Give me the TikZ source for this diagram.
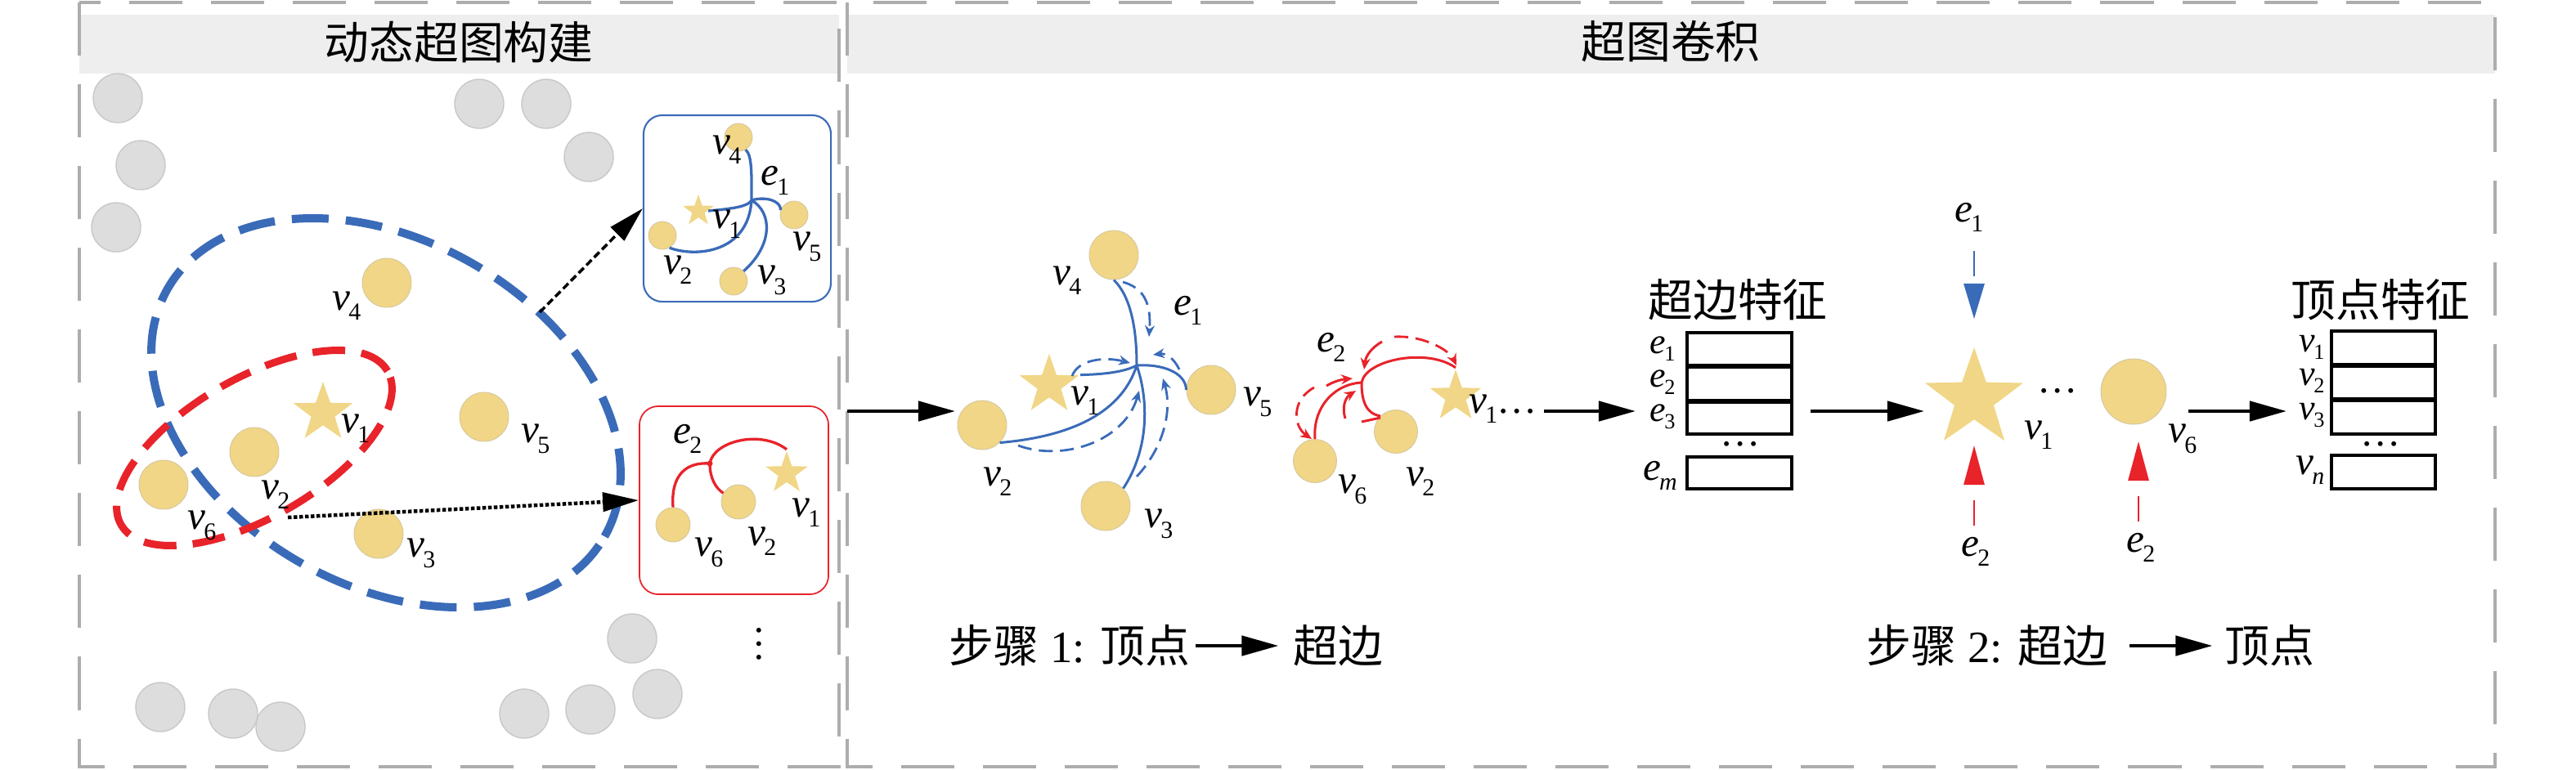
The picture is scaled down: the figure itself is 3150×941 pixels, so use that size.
\documentclass[tikz,border=0pt]{standalone}
\usepackage{fontspec}
\usepackage{graphicx}
\setmainfont{Liberation Serif}
\newfontfamily\cjk{Noto Sans CJK SC}
\usetikzlibrary{shapes.geometric,arrows.meta}
\definecolor{hblue}{RGB}{58,107,184}
\definecolor{hred}{RGB}{232,35,42}
\definecolor{hyel}{RGB}{240,214,134}
\definecolor{hyelb}{RGB}{212,198,160}
\definecolor{hgray}{RGB}{221,221,221}
\definecolor{hgrayb}{RGB}{200,200,200}
\definecolor{pgray}{RGB}{173,173,173}
\definecolor{band}{RGB}{238,238,238}
\newcommand{\vlab}[2]{\textit{#1}\kern-0.04em\raisebox{-0.55ex}{\fontsize{8.5pt}{9pt}\selectfont #2}}
\newcommand{\tlab}[2]{\textit{#1}\kern-0.04em\raisebox{-0.45ex}{\fontsize{7.5pt}{8pt}\selectfont #2}}
\begin{document}
\begin{tikzpicture}[x=0.01cm,y=-0.01cm,
  ynode/.style={circle,fill=hyel,draw=hyelb,line width=0.25pt,inner sep=0pt,minimum size=#1},
  gnode/.style={circle,fill=hgray,draw=hgrayb,line width=0.4pt,inner sep=0pt,minimum size=0.6cm},
  ystar/.style={star,star points=5,star point ratio=2.5,fill=hyel,draw=none,inner sep=0pt,minimum size=#1},
  lbl/.style={font=\fontsize{14pt}{16pt}\selectfont,inner sep=0pt},
  tlbl/.style={font=\fontsize{12.5pt}{14pt}\selectfont,inner sep=0pt},
  cjkt/.style={font=\fontsize{15.6pt}{18pt}\selectfont,inner sep=0pt},
  panel/.style={draw=pgray,line width=0.04cm,dash pattern=on 0.65cm off 0.35cm},
  bigarrow/.style={line width=0.045cm,-{Triangle[length=0.45cm,width=0.24cm]}},
  bline/.style={draw=hblue,line width=0.03cm},
  bdash/.style={draw=hblue,line width=0.028cm,dash pattern=on 0.17cm off 0.09cm,-{Stealth[length=0.14cm,width=0.12cm]}},
  rline/.style={draw=hred,line width=0.03cm},
  rdash/.style={draw=hred,line width=0.028cm,dash pattern=on 0.17cm off 0.09cm,-{Stealth[length=0.14cm,width=0.12cm]}},
  tbox/.style={draw,line width=0.035cm,inner sep=0pt,minimum width=1.28cm},
  sep/.style={line width=0.055cm}
]
\useasboundingbox (0,0) rectangle (3150,941);
% panels
\fill[band] (97,18) rectangle (1026,90);
\fill[band] (1036,18) rectangle (3051,90);
\draw[panel] (97,3) rectangle (1026,938);
\draw[panel] (1036,3) rectangle (3051,938);
\node[cjkt] (t1) at (561,52) {\cjk 动态超图构建};
\node[cjkt] (t2) at (2043,51) {\cjk 超图卷积};

% ---------------- left panel ----------------
\foreach \p [count=\i] in {(144,120),(586,127),(668,127),(172,202),(720,192),(142,278),(773,781),(804,849),(722,868),(641,873),(196,865),(285,873),(343,889)}
  \node[gnode] (g\i) at \p {};
\draw[hblue,line width=0.1cm,dash pattern=on 0.45cm off 0.21cm,rotate around={-29.5:(472,505)}] (472,505) ellipse [x radius=3.07cm,y radius=2.11cm];
\draw[hred,line width=0.09cm,dash pattern=on 0.4cm off 0.2cm,rotate around={30:(311,548)}] (311,548) ellipse [x radius=1.88cm,y radius=0.85cm];
\node[ynode=0.6cm] (L4) at (473,346) {};
\node[ystar=0.76cm] (L1) at (395,505) {};
\node[ynode=0.6cm] (L2) at (311,553) {};
\node[ynode=0.6cm] (L6) at (200,593) {};
\node[ynode=0.6cm] (L5) at (592,510) {};
\node[ynode=0.6cm] (L3) at (463,653) {};
\node[lbl] (lL4) at (424,374) {\vlab{v}{4}};
\node[lbl] (lL1) at (435,524) {\vlab{v}{1}};
\node[lbl] (lL2) at (337,605) {\vlab{v}{2}};
\node[lbl] (lL6) at (247,643) {\vlab{v}{6}};
\node[lbl] (lL5) at (655,537) {\vlab{v}{5}};
\node[lbl] (lL3) at (515,677) {\vlab{v}{3}};

% blue hyperedge box
\node[draw=hblue,line width=0.6pt,rounded corners=0.23cm,minimum width=2.29cm,minimum height=2.28cm,inner sep=0pt] (BB) at (901.5,255) {};
\node[ynode=0.34cm] (B4) at (903,168) {};
\node[ystar=0.4cm] (B1) at (854,258) {};
\node[ynode=0.34cm] (B2) at (810,288) {};
\node[ynode=0.34cm] (B5) at (971,263) {};
\node[ynode=0.34cm] (B3) at (897,344) {};
\coordinate (BH) at (919,245);
\draw[bline,line width=0.033cm] (B4.-60) .. controls (920,190) and (919,215) .. (BH);
\draw[bline,line width=0.033cm] (B1.east) .. controls (900,255) and (915,252) .. (BH);
\draw[bline,line width=0.033cm] (B2.-60) .. controls (850,315) and (915,310) .. (BH);
\draw[bline,line width=0.033cm] (B3.45) .. controls (945,300) and (945,260) .. (BH);
\draw[bline,line width=0.033cm] (B5.160) .. controls (955,245) and (935,240) .. (BH);
\node[lbl] (lB4) at (889,183) {\vlab{v}{4}};
\node[lbl] (lBe) at (948,221) {\vlab{e}{1}};
\node[lbl] (lB1) at (889,274) {\vlab{v}{1}};
\node[lbl] (lB5) at (987,302) {\vlab{v}{5}};
\node[lbl] (lB2) at (829,330) {\vlab{v}{2}};
\node[lbl] (lB3) at (944,343) {\vlab{v}{3}};

% red hyperedge box
\node[draw=hred,line width=0.5pt,rounded corners=0.23cm,minimum width=2.31cm,minimum height=2.30cm,inner sep=0pt] (RB) at (897.5,612) {};
\node[ynode=0.42cm] (R6) at (823,642) {};
\node[ynode=0.42cm] (R2) at (903,614) {};
\node[ystar=0.54cm] (R1) at (962,579) {};
\coordinate (RJ) at (868,567);
\draw[rline,line width=0.033cm] (R6.north) .. controls (820,580) and (840,565) .. (RJ);
\draw[rline,line width=0.033cm] (RJ) .. controls (872,540) and (930,525) .. (R1.north);
\draw[rline,line width=0.033cm] (RJ) .. controls (868,585) and (875,597) .. (R2.150);
\fill[hred] (RJ) circle (0.035cm);
\node[lbl] (lRe) at (841,537) {\vlab{e}{2}};
\node[lbl] (lR1) at (986,627) {\vlab{v}{1}};
\node[lbl] (lR6) at (867,676) {\vlab{v}{6}};
\node[lbl] (lR2) at (932,662) {\vlab{v}{2}};
\node[lbl] (vdots) at (928,788) {\rotatebox{90}{…}};

% left arrows
\coordinate (A1) at (660,382);
\coordinate (A2) at (352,633);
\draw[line width=0.035cm,dash pattern=on 0.09cm off 0.045cm,-{Triangle[length=0.44cm,width=0.23cm]}] (A1) -- (BB.west);
\draw[line width=0.045cm,dash pattern=on 0.045cm off 0.025cm,-{Triangle[length=0.44cm,width=0.23cm]}] (A2) -- (RB.west);

% ---------------- right panel ----------------
\coordinate (P0) at (1036,503);
\coordinate (P1) at (1168,503);
\draw[bigarrow] (P0) -- (P1);

% step 1 blue
\node[ynode=0.6cm] (C4) at (1362,312) {};
\node[ystar=0.76cm] (C1) at (1283,471) {};
\node[ynode=0.6cm] (C2) at (1201,520) {};
\node[ynode=0.6cm] (C5) at (1481,477) {};
\node[ynode=0.6cm] (C3) at (1352,619) {};
\coordinate (CH) at (1390,447);
\draw[bline] (C4.south) .. controls (1382,362) and (1390,400) .. (CH);
\draw[bline] (C1.18) .. controls (1350,458) and (1375,455) .. (CH);
\draw[bline] (C2.-45) .. controls (1300,535) and (1370,510) .. (CH);
\draw[bline] (C3.45) .. controls (1405,550) and (1405,490) .. (CH);
\draw[bline] (C5.west) .. controls (1450,455) and (1420,445) .. (CH);
\draw[bdash] (1373,345) .. controls (1398,352) and (1408,370) .. (1405,412);
\draw[bdash] (1311,460) .. controls (1318,440) and (1350,436) .. (1382,444);
\draw[bdash] (1245,545) .. controls (1300,565) and (1375,540) .. (1393,478);
\draw[bdash] (1390,583) .. controls (1425,545) and (1433,500) .. (1422,463);
\draw[bdash] (1442,452) .. controls (1435,437) and (1425,432) .. (1410,434);
\node[lbl] (lC4) at (1305,343) {\vlab{v}{4}};
\node[lbl] (lCe) at (1453,380) {\vlab{e}{1}};
\node[lbl] (lC1) at (1327,490) {\vlab{v}{1}};
\node[lbl] (lC5) at (1538,492) {\vlab{v}{5}};
\node[lbl] (lC2) at (1220,589) {\vlab{v}{2}};
\node[lbl] (lC3) at (1417,641) {\vlab{v}{3}};

% step 1 red
\node[ynode=0.53cm] (D6) at (1608,564) {};
\node[ynode=0.53cm] (D2) at (1707,528) {};
\node[ystar=0.66cm] (D1) at (1780,485) {};
\coordinate (DJ) at (1665,468);
\draw[rline] (D6.north) .. controls (1605,500) and (1630,470) .. (DJ);
\draw[rline] (DJ) .. controls (1670,440) and (1745,425) .. (D1.north);
\draw[rline] (DJ) .. controls (1665,490) and (1670,506) .. (D2.135);
\draw[rline] (1665,516) -- (1688,511);
\draw[rdash] (1705,412) .. controls (1740,410) and (1772,428) .. (1781,447);
\draw[rline,-{Stealth[length=0.14cm,width=0.12cm]}] (1690,418) .. controls (1676,426) and (1670,436) .. (1668,452);
\draw[rdash] (1607,474) .. controls (1578,490) and (1582,522) .. (1604,537);
\draw[rline,-{Stealth[length=0.14cm,width=0.12cm]}] (1622,472) .. controls (1632,466) and (1642,464) .. (1654,463);
\draw[rline,-{Stealth[length=0.14cm,width=0.12cm]}] (1645,512) .. controls (1640,495) and (1647,485) .. (1658,478);
\node[lbl] (lDe) at (1628,425) {\vlab{e}{2}};
\node[lbl] (lD1) at (1814,500) {\vlab{v}{1}};
\node[lbl] (dd1) at (1855,503) {…};
\node[lbl] (lD6) at (1654,599) {\vlab{v}{6}};
\node[lbl] (lD2) at (1737,589) {\vlab{v}{2}};
\coordinate (Q1) at (1888,503);
\coordinate (Q2) at (2000,503);
\draw[bigarrow] (Q1) -- (Q2);

% hyperedge features
\node[cjkt] (hetitle) at (2125,367) {\cjk 超边特征};
\node[tbox,minimum height=1.24cm] (HE) at (2127,469) {};
\draw[sep] (HE.west |- 0,448) -- (HE.east |- 0,448);
\draw[sep] (HE.west |- 0,491) -- (HE.east |- 0,491);
\node[tbox,minimum height=0.39cm] (HEm) at (2127,578.5) {};
\node[tlbl] (le1) at (2033,427) {\tlab{e}{1}};
\node[tlbl] (le2) at (2033,468) {\tlab{e}{2}};
\node[tlbl] (le3) at (2033,510) {\tlab{e}{3}};
\node[lbl] (lem) at (2030,582) {\vlab{e}{\textit{m}}};
\node[lbl] (dd2) at (2128,543) {…};
\coordinate (Q3) at (2214,503);
\coordinate (Q4) at (2353,503);
\draw[bigarrow] (Q3) -- (Q4);

% step 2 nodes
\node[ystar=1.26cm] (S1) at (2414,488) {};
\node[lbl] (dd3) at (2516,478) {…};
\node[ynode=0.8cm] (S6) at (2609,479) {};
\node[lbl] (lS1) at (2493,532) {\vlab{v}{1}};
\node[lbl] (lS6) at (2669,537) {\vlab{v}{6}};
\node[lbl] (lSe1) at (2408,266) {\vlab{e}{1}};
\node[lbl] (lSe2a) at (2416,675) {\vlab{e}{2}};
\node[lbl] (lSe2b) at (2618,670) {\vlab{e}{2}};
\coordinate (E1a) at (2414,307);
\coordinate (E1b) at (2414,390);
\draw[hblue,line width=0.028cm,dash pattern=on 0.31cm off 0.09cm,-{Triangle[length=0.43cm,width=0.25cm]}] (E1a) -- (E1b);
\coordinate (E2a) at (2414,643);
\coordinate (E2b) at (2414,545);
\draw[hred,line width=0.028cm,dash pattern=on 0.31cm off 0.19cm,-{Triangle[length=0.48cm,width=0.25cm]}] (E2a) -- (E2b);
\coordinate (E3a) at (2615,638);
\coordinate (E3b) at (2615,540);
\draw[hred,line width=0.028cm,dash pattern=on 0.31cm off 0.19cm,-{Triangle[length=0.48cm,width=0.25cm]}] (E3a) -- (E3b);
\coordinate (Q5) at (2676,503);
\coordinate (Q6) at (2796,503);
\draw[bigarrow] (Q5) -- (Q6);

% vertex features
\node[cjkt] (vtitle) at (2911,367) {\cjk 顶点特征};
\node[tbox,minimum width=1.27cm,minimum height=1.26cm] (VT) at (2914.5,468) {};
\draw[sep] (VT.west |- 0,447) -- (VT.east |- 0,447);
\draw[sep] (VT.west |- 0,489) -- (VT.east |- 0,489);
\node[tbox,minimum width=1.27cm,minimum height=0.41cm] (VTn) at (2914.5,577.5) {};
\node[tlbl] (lv1) at (2827,425) {\tlab{v}{1}};
\node[tlbl] (lv2) at (2827,466) {\tlab{v}{2}};
\node[tlbl] (lv3) at (2827,508) {\tlab{v}{3}};
\node[lbl] (lvn) at (2825,575) {\vlab{v}{\textit{n}}};
\node[lbl] (dd4) at (2911,543) {…};

% step captions
\node[cjkt] (s1a) at (1308,790) {{\cjk 步骤} 1: {\cjk 顶点}};
\node[cjkt] (s1b) at (1636,790) {\cjk 超边};
\draw[bigarrow,shorten <=0.06cm,shorten >=0.17cm] (s1a.east) -- (s1b.west);
\node[cjkt] (s2a) at (2430,790) {{\cjk 步骤} 2: {\cjk 超边}};
\node[cjkt] (s2b) at (2775,790) {\cjk 顶点};
\draw[bigarrow,shorten <=0.26cm,shorten >=0.14cm] (s2a.east) -- (s2b.west);
\end{tikzpicture}
\end{document}
